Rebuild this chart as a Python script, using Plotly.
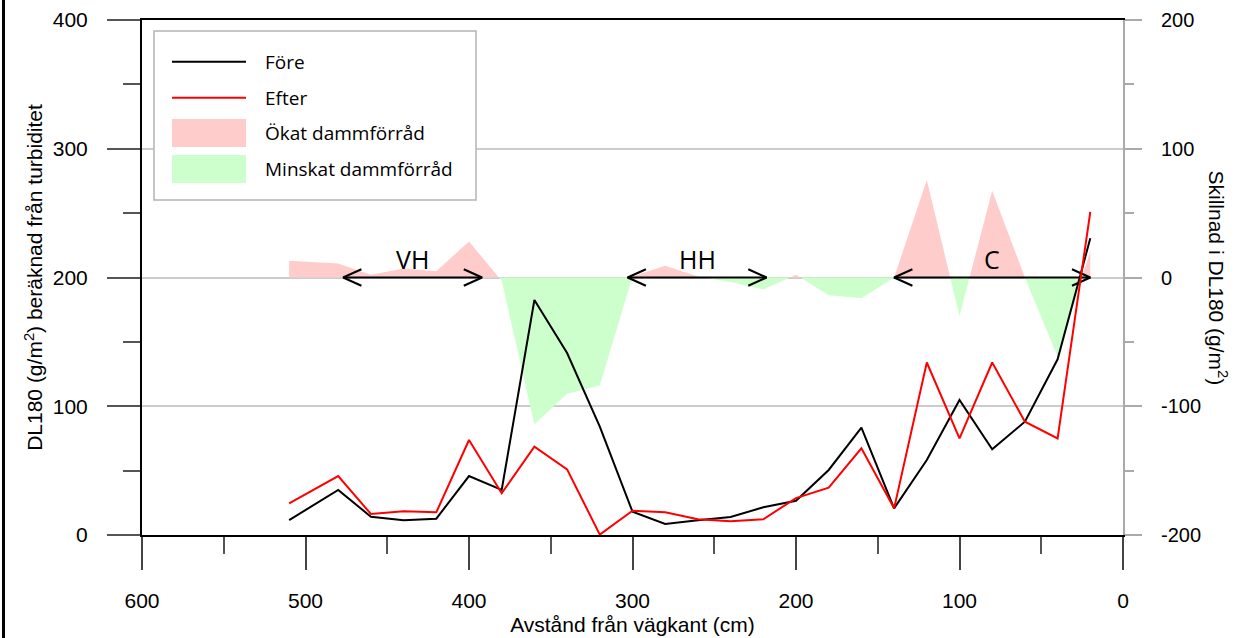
import plotly.graph_objects as go

# ---------------- data ----------------
distance_cm = [510, 480, 460, 440, 420, 400, 380, 360, 340, 320, 300, 280, 260,
               240, 220, 200, 180, 160, 140, 120, 100, 80, 60, 40, 20]
fore = [11.6, 35.0, 14.2, 11.4, 12.7, 45.8, 35.0, 182.5, 141.3, 84.2, 18.1, 8.5, 11.5,
        14.0, 21.5, 26.6, 50.5, 83.4, 20.7, 58.3, 104.9, 66.6, 88.0, 136.5, 230.4]
efter = [24.6, 45.8, 16.3, 18.4, 17.6, 73.8, 32.4, 68.6, 51.0, 0.3, 18.8, 17.6, 12.2,
         10.6, 12.2, 28.7, 36.8, 67.3, 20.7, 134.0, 75.0, 134.0, 88.0, 75.0, 251.0]

zone_labels = ["VH", "HH", "C"]
zone_start = [477, 303, 140]
zone_end = [392, 218, 20]

x_ticks = [600, 500, 400, 300, 200, 100, 0]
left_ticks = [0, 100, 200, 300, 400]
right_ticks = [-200, -100, 0, 100, 200]
right_tick_text = ["-200", "-100", "0", "100", "200"]

legend_names = ["Före", "Efter", "Ökat dammförråd", "Minskat dammförråd"]

# ---------------- styling ----------------
W, H = 1243, 638
PL, PR, PT, PB = 142, 1123, 20, 535   # plot area in pixels
C_FORE = "#000000"
C_EFTER = "#ff0000"
C_POS = "#ffcccc"
C_NEG = "#ccffcc"
TICK_FONT = dict(family="Liberation Sans, Arial", size=21, color="#000000")
RTICK_FONT = dict(family="Liberation Sans, Arial", size=20, color="#000000")
TITLE_FONT = dict(family="Liberation Sans, Arial", size=21, color="#000000")
LEG_FONT = dict(family="Open Sans", size=19, color="#000000")
ZONE_FONT = dict(family="Open Sans", size=25, color="#000000")


def px(p):
    return (p - PL) / (PR - PL)


def py(p):
    return (PB - p) / (PB - PT)


# difference series (Efter - Före) on the right axis, split at zero crossings
diff = [e - f for e, f in zip(efter, fore)]
fx, fy = [], []
for i in range(len(distance_cm)):
    if i > 0:
        d0, d1 = diff[i - 1], diff[i]
        if d0 * d1 < 0:
            t = d0 / (d0 - d1)
            fx.append(distance_cm[i - 1] + t * (distance_cm[i] - distance_cm[i - 1]))
            fy.append(0.0)
    fx.append(distance_cm[i])
    fy.append(diff[i])
pos = [max(v, 0.0) for v in fy]
neg = [min(v, 0.0) for v in fy]

fig = go.Figure()

fig.add_trace(go.Scatter(x=fx, y=pos, mode="lines", fill="tozeroy", fillcolor=C_POS,
                         line=dict(width=0, color=C_POS), yaxis="y", hoverinfo="skip"))
fig.add_trace(go.Scatter(x=fx, y=neg, mode="lines", fill="tozeroy", fillcolor=C_NEG,
                         line=dict(width=0, color=C_NEG), yaxis="y", hoverinfo="skip"))

# double-headed zone arrows (on the difference axis, at 0)
hx, hy = 11.2, 6.4
ax, ay = [], []
for s, e in zip(zone_start, zone_end):
    ax += [s - hx, s, s - hx, None, s, e, None, e + hx, e, e + hx, None]
    ay += [hy, 0, -hy, None, 0, 0, None, hy, 0, -hy, None]
fig.add_trace(go.Scatter(x=ax, y=ay, mode="lines", line=dict(color="#000000", width=2),
                         yaxis="y", hoverinfo="skip"))

fig.add_trace(go.Scatter(x=distance_cm, y=fore, mode="lines", name=legend_names[0],
                         line=dict(color=C_FORE, width=2), yaxis="y2"))
fig.add_trace(go.Scatter(x=distance_cm, y=efter, mode="lines", name=legend_names[1],
                         line=dict(color=C_EFTER, width=2), yaxis="y2"))

for lab, s, e in zip(zone_labels, zone_start, zone_end):
    fig.add_annotation(x=(s + e) / 2, y=0, xref="x", yref="y", text=lab, showarrow=False,
                       yshift=19, font=ZONE_FONT, xanchor="center", yanchor="middle")

fig.update_layout(
    width=W, height=H,
    margin=dict(l=PL, r=W - PR, t=PT, b=H - PB, autoexpand=False),
    paper_bgcolor="white", plot_bgcolor="white",
    showlegend=False,
    xaxis=dict(
        range=[600, 0], tickvals=x_ticks, ticks="outside", ticklen=33, tickwidth=1.5,
        tickcolor="#444444", showline=True, linecolor="#000000", linewidth=2, mirror=True,
        showgrid=False, zeroline=False, tickfont=TICK_FONT, ticklabelstandoff=13,
        automargin=False,
        minor=dict(dtick=50, tick0=0, ticks="outside", ticklen=17, tickwidth=1.5,
                   tickcolor="#555555", showgrid=False),
        title=dict(text="Avstånd från vägkant (cm)", font=TITLE_FONT, standoff=6),
    ),
    yaxis=dict(
        side="right", range=[-200, 200], tickvals=right_ticks, ticktext=right_tick_text,
        ticks="outside", ticklen=17, tickwidth=1.5, tickcolor="#aaaaaa",
        showline=True, linecolor="#aaaaaa", linewidth=2, automargin=False,
        showgrid=True, gridcolor="#cccccc", gridwidth=1.5, zeroline=False,
        tickfont=RTICK_FONT, ticklabelstandoff=15,
        minor=dict(dtick=50, tick0=0, ticks="outside", ticklen=9, tickwidth=1.5,
                   tickcolor="#aaaaaa", showgrid=False),
    ),
    yaxis2=dict(
        side="left", overlaying="y", range=[0, 400], tickvals=left_ticks,
        ticks="outside", ticklen=33, tickwidth=1.5, tickcolor="#555555",
        showline=True, linecolor="#000000", linewidth=2, automargin=False,
        showgrid=False, zeroline=False, tickfont=TICK_FONT, ticklabelstandoff=15,
        minor=dict(dtick=50, tick0=0, ticks="outside", ticklen=17, tickwidth=1.5,
                   tickcolor="#555555", showgrid=False),
        title=dict(text="DL180 (g/m<sup>2</sup>) beräknad från turbiditet",
                   font=TITLE_FONT, standoff=4),
    ),
)

# right axis title (reads top to bottom)
fig.add_annotation(x=px(1218), y=0.5, xref="paper", yref="paper",
                   text="Skillnad i DL180 (g/m<sup>2</sup>)", textangle=90,
                   showarrow=False, font=TITLE_FONT, xanchor="center", yanchor="middle")

# outer frame line on the left edge of the picture
fig.add_shape(type="line", xref="paper", yref="paper", x0=px(3.5), x1=px(3.5),
              y0=py(H + 5), y1=py(-5), line=dict(color="#000000", width=3), layer="above")

# legend box
fig.add_shape(type="rect", xref="paper", yref="paper", x0=px(154), x1=px(476),
              y0=py(200), y1=py(31), line=dict(color="#b4b4b4", width=1.5),
              fillcolor="white", layer="above")
leg_rows = [61.7, 97.7, 133, 169]
fig.add_shape(type="line", xref="paper", yref="paper", x0=px(172), x1=px(246),
              y0=py(leg_rows[0]), y1=py(leg_rows[0]), line=dict(color=C_FORE, width=2),
              layer="above")
fig.add_shape(type="line", xref="paper", yref="paper", x0=px(172), x1=px(246),
              y0=py(leg_rows[1]), y1=py(leg_rows[1]), line=dict(color=C_EFTER, width=2),
              layer="above")
fig.add_shape(type="rect", xref="paper", yref="paper", x0=px(172), x1=px(246),
              y0=py(leg_rows[2] + 14), y1=py(leg_rows[2] - 14), line=dict(width=0),
              fillcolor=C_POS, layer="above")
fig.add_shape(type="rect", xref="paper", yref="paper", x0=px(172), x1=px(246),
              y0=py(leg_rows[3] + 14), y1=py(leg_rows[3] - 14), line=dict(width=0),
              fillcolor=C_NEG, layer="above")
for name, r in zip(legend_names, leg_rows):
    fig.add_annotation(x=px(263), y=py(r), xref="paper", yref="paper", text=name,
                       showarrow=False, font=LEG_FONT, xanchor="left", yanchor="middle")

fig.write_html("out.html")
